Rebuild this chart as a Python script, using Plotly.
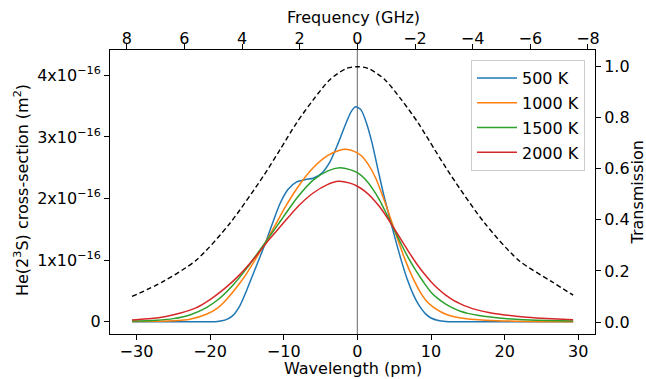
import plotly.graph_objects as go

# ---------------- data ----------------
# wavelength offsets in pm, cross-sections in units of 1e-16 m^2
wl_500 = [-30.6, -25, -20, -19, -18, -17, -16, -15, -14, -13.2, -12.42, -11.4, -10.5,
          -9.4, -8.25, -7.0, -6.0, -4.85, -3.7, -2.6, -1.45, -0.8, -0.2, 0.5, 1.2, 2.0, 2.8,
          3.6, 4.4, 5.2, 6.0, 6.8, 7.6, 8.4, 9.2, 10.0, 11.0, 12.0, 13.0, 20.0, 29.3]
cs_500 = [0.0, 0.0, 0.0, 0.005, 0.025, 0.09, 0.25, 0.52, 0.82, 1.06, 1.30, 1.64, 1.92,
          2.15, 2.27, 2.31, 2.33, 2.41, 2.60, 2.90, 3.25, 3.42, 3.49, 3.44, 3.24, 2.90, 2.47,
          2.05, 1.68, 1.32, 0.98, 0.68, 0.44, 0.26, 0.135, 0.06, 0.018, 0.004, 0.0, 0.0, 0.0]

wl_1000 = [-30.6, -27, -25, -22.75, -20.5, -19, -17.77, -16, -15, -13.5, -12.42, -11, -10, -8, -6,
           -4, -2.5, -1.6, -0.5, 0.5, 1.5, 2.5, 3.5, 4.5, 5.5, 6.5, 7.5, 8.5, 9.5, 10.5, 11.5,
           12.5, 14, 16, 19, 23, 29.3]
cs_1000 = [0.003, 0.008, 0.015, 0.04, 0.12, 0.22, 0.36, 0.62, 0.79, 1.08, 1.30, 1.60, 1.82, 2.20, 2.50,
           2.70, 2.78, 2.80, 2.77, 2.70, 2.55, 2.33, 2.02, 1.68, 1.33, 1.00, 0.72, 0.49, 0.32, 0.22,
           0.15, 0.10, 0.06, 0.035, 0.015, 0.005, 0.001]

wl_1500 = [-30.6, -27.3, -25, -22.75, -20.5, -18.9, -17, -15, -13.5, -12.42, -11, -10, -8, -6, -4,
           -2.4, -1, 0, 1, 2, 3, 4, 4.9, 6, 7, 8, 9, 10, 11, 12, 13, 14, 15, 16.5, 18, 20, 22.6,
           26, 29.3]
cs_1500 = [0.01, 0.025, 0.05, 0.11, 0.23, 0.36, 0.58, 0.87, 1.12, 1.30, 1.54, 1.71, 2.04, 2.30, 2.45,
           2.50, 2.47, 2.42, 2.32, 2.17, 1.98, 1.74, 1.52, 1.25, 1.02, 0.82, 0.64, 0.48, 0.37, 0.285,
           0.22, 0.17, 0.135, 0.10, 0.075, 0.052, 0.033, 0.018, 0.01]

wl_2000 = [-30.6, -28, -26, -24, -22, -20, -18, -16, -14, -12.42, -11, -10, -8, -6, -4, -2.6, -1,
           0, 1, 2, 3, 4, 4.9, 6, 7, 8, 9, 10, 11, 12, 13, 14, 15, 16, 18, 20, 22.6, 25, 29.3]
cs_2000 = [0.027, 0.05, 0.085, 0.14, 0.22, 0.36, 0.54, 0.76, 1.03, 1.27, 1.47, 1.61, 1.88, 2.09, 2.23,
           2.28, 2.25, 2.20, 2.12, 2.01, 1.87, 1.70, 1.53, 1.32, 1.13, 0.95, 0.79, 0.65, 0.53, 0.43,
           0.35, 0.29, 0.24, 0.20, 0.145, 0.11, 0.075, 0.055, 0.03]

wl_trans = [-30.6, -26.4, -21.85, -17.3, -12.8, -10.5, -8.25, -6.0, -3.7, -1.5, 0.0, 1.5, 3.7, 6.0,
            8.25, 10.5, 12.8, 17.3, 21.85, 26.4, 29.3]
transmission = [0.10, 0.158, 0.243, 0.387, 0.57, 0.675, 0.78, 0.87, 0.95, 0.993, 1.0, 0.993, 0.95, 0.87,
                0.78, 0.675, 0.57, 0.387, 0.243, 0.158, 0.105]

series_names = ["500 K", "1000 K", "1500 K", "2000 K"]
series_colors = ["#1f77b4", "#ff7f0e", "#2ca02c", "#d62728"]

left_tick_vals = [0, 1, 2, 3, 4]
left_tick_text = ["0", "1x10<sup>\u221216</sup>", "2x10<sup>\u221216</sup>",
                  "3x10<sup>\u221216</sup>", "4x10<sup>\u221216</sup>"]
freq_ticks = [8, 6, 4, 2, 0, -2, -4, -6, -8]
wl_ticks = [-30, -20, -10, 0, 10, 20, 30]
trans_ticks = [0.0, 0.2, 0.4, 0.6, 0.8, 1.0]

# conversion wavelength offset (pm) -> frequency offset (GHz) at 1083.3 nm
C = 299792458.0
LAM0 = 1083.3e-9
K_GHZ_PER_PM = C / LAM0 ** 2 * 1e-12 / 1e9

x_range = [-33.59, 32.27]
top_range = [-x_range[0] * K_GHZ_PER_PM, -x_range[1] * K_GHZ_PER_PM]

# plot-area geometry (px)
L, R, T, B = 110, 51, 50, 45
W, H = 646, 379
PW, PH = W - L - R, H - T - B


def px_x(px):
    return (px - L) / PW


def px_y(py):
    return (H - B - py) / PH


# ---------------- figure ----------------
fig = go.Figure()
for wl, cs, name, col in zip([wl_500, wl_1000, wl_1500, wl_2000],
                             [cs_500, cs_1000, cs_1500, cs_2000],
                             series_names, series_colors):
    fig.add_trace(go.Scatter(x=wl, y=cs, mode="lines", name=name, legendgroup=name,
                             line=dict(color=col, width=1.5, shape="spline", smoothing=0.7),
                             xaxis="x", yaxis="y"))

fig.add_trace(go.Scatter(x=wl_trans, y=transmission, mode="lines", showlegend=False,
                         line=dict(color="black", width=1.4, dash="5px,3px",
                                   shape="spline", smoothing=0.8),
                         xaxis="x", yaxis="y2"))

# invisible helper trace so the top frequency axis is drawn
fig.add_trace(go.Scatter(x=freq_ticks, y=[0] * len(freq_ticks), mode="markers",
                         marker=dict(opacity=0), showlegend=False, hoverinfo="skip",
                         xaxis="x2", yaxis="y"))

axis_common = dict(showline=True, linecolor="black", linewidth=1, ticks="outside", ticklen=5,
                   tickcolor="black", tickwidth=1, showgrid=False, zeroline=False,
                   automargin=False, tickfont=dict(size=16, color="black"))

fig.update_layout(
    template="none",
    width=W, height=H,
    margin=dict(l=L, r=R, t=T, b=B, pad=0),
    paper_bgcolor="white", plot_bgcolor="white",
    font=dict(family="DejaVu Sans", size=16, color="black"),
    xaxis=dict(range=x_range, tickvals=wl_ticks, **axis_common),
    xaxis2=dict(range=top_range, tickvals=freq_ticks, overlaying="x", side="top",
                anchor="y", **axis_common),
    yaxis=dict(range=[-0.1998, 4.4125], tickvals=left_tick_vals, ticktext=left_tick_text,
               **axis_common),
    yaxis2=dict(range=[-0.047, 1.0654], tickvals=trans_ticks, tickformat=".1f",
                overlaying="y", side="right", anchor="x", **axis_common),
    legend=dict(x=px_x(585), y=px_y(60), xanchor="right", yanchor="top",
                bgcolor="rgba(255,255,255,0.8)", bordercolor="#cccccc", borderwidth=1,
                font=dict(size=16), itemwidth=40, tracegroupgap=1),
    shapes=[dict(type="line", xref="x", yref="paper", x0=0, x1=0, y0=0, y1=1,
                 line=dict(color="gray", width=1.2), layer="below")],
)

title_font = dict(size=16, color="black", family="DejaVu Sans")
fig.add_annotation(text="Wavelength (pm)", xref="paper", yref="paper", x=px_x(353), y=px_y(368.5),
                   xanchor="center", yanchor="middle", showarrow=False, font=title_font)
fig.add_annotation(text="Frequency (GHz)", xref="paper", yref="paper", x=px_x(353), y=px_y(18),
                   xanchor="center", yanchor="middle", showarrow=False, font=title_font)
fig.add_annotation(text="He(2<sup>3</sup>S) cross-section (m<sup>2</sup>)", xref="paper",
                   yref="paper", x=px_x(21), y=px_y(190), xanchor="center", yanchor="middle",
                   textangle=-90, showarrow=False, font=title_font)
fig.add_annotation(text="Transmission", xref="paper", yref="paper", x=px_x(636.5), y=px_y(193),
                   xanchor="center", yanchor="middle", textangle=-90, showarrow=False,
                   font=title_font)

# bring the tick labels a little closer to the axes, as in the reference
try:
    fig.update_layout(xaxis_ticklabelstandoff=-2, xaxis2_ticklabelstandoff=-6)
except Exception:
    pass

fig.write_html("out.html", config={"displayModeBar": False},
               post_script="document.body.style.margin='0';document.body.style.overflow='hidden';")
